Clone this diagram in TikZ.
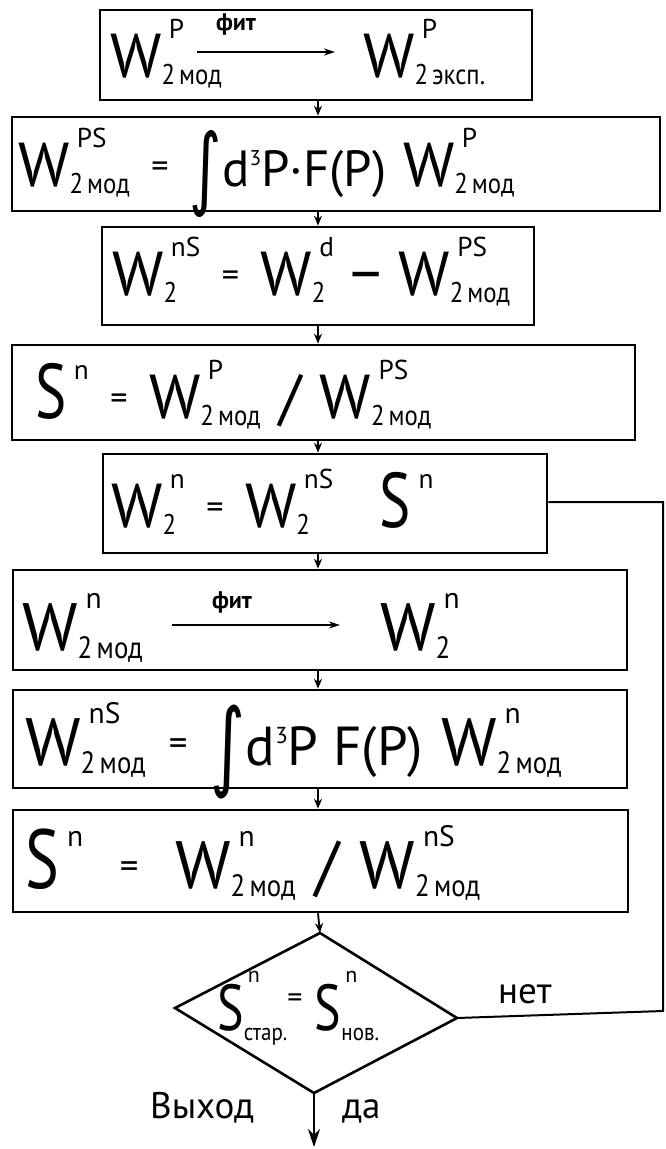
\documentclass[tikz,border=0pt]{standalone}
\usepackage{graphicx}
\usepackage{fontspec}
\setmainfont{PT Sans}
\newfontfamily\symf{DejaVu Sans}
\usetikzlibrary{fit,arrows.meta,calc}
\newcommand{\su}[2]{\ooalign{\hspace{0.12em}\raisebox{0.62em}{\scalebox{0.44}{#1}}\cr\raisebox{-0.12em}{\scalebox{0.4}[0.46]{#2}}\cr}}
\newcommand{\sud}[2]{\ooalign{\hspace{0.08em}\raisebox{0.95em}{\scalebox{0.44}{#1}}\cr\raisebox{-0.2em}{\scalebox{0.42}[0.48]{#2}}\cr}}
\newcommand{\intg}{\raisebox{-0.2em}{\scalebox{1}[1.45]{\symf ∫}}}
\newcommand{\cube}{\raisebox{0.4em}{\scalebox{0.42}{3}}}
\newcommand{\bigS}{\scalebox{0.95}[1.25]{S}}
\newcommand{\eq}{\hspace{0.08em}\raisebox{0.14em}{\scalebox{0.55}{=}}\hspace{0.08em}}
\newcommand{\sm}[1]{\scalebox{0.82}{#1}}
\newcommand{\slsh}{\hspace{0.3em}/\hspace{0.3em}}
\begin{document}
\begin{tikzpicture}[x=1pt,y=-1pt,
  box/.style={draw,line width=2.6pt,inner sep=0pt},
  outline/.style={draw,line width=2.6pt,line join=miter},
  txt/.style={anchor=base west,inner sep=0pt,font=\fontsize{62}{70}\selectfont},
  bigtxt/.style={txt,font=\fontsize{67}{74}\selectfont},
  lbl/.style={inner sep=0pt,font=\fontsize{37}{42}\selectfont},
  flbl/.style={inner sep=0pt,font=\fontsize{24}{28}\selectfont\bfseries},
  flow/.style={line width=1.8pt,-{Stealth[length=10pt,width=8pt]}},
  fitarrow/.style={line width=2pt,-{Stealth[length=11pt,width=7pt]}},
  exitarrow/.style={line width=2pt,-{Stealth[length=18pt,width=12pt]}},
  fb/.style={line width=2pt}]
\useasboundingbox (0,0) rectangle (665,1149);
\fill[white] (0,0) rectangle (665,1149);
% boxes
\node[box,fit={(100,10)(532,100)}] (b1) {};
\node[box,fit={(12,117)(660,211)}] (b2) {};
\node[box,fit={(102,227)(534,325)}] (b3) {};
\node[box,fit={(12,345)(635,440)}] (b4) {};
\node[box,fit={(103,454)(547,553)}] (b5) {};
\node[box,fit={(13,570)(627,670)}] (b6) {};
\node[box,fit={(13,690)(627,788)}] (b7) {};
\node[box,fit={(13,810)(628,912)}] (b8) {};
% diamond
\coordinate (dt) at (320,933);
\coordinate (dr) at (457,1018);
\coordinate (db) at (314,1093);
\coordinate (dl) at (175,1008);
\draw[outline] (dt) -- (dr) -- (db) -- (dl) -- cycle;
% texts
\node[txt] (l1a) at (110,77) {W\su{P}{2\,мод}};
\node[txt] (l1b) at (363,77) {W\su{P}{2\,эксп.}};
\coordinate (f1s) at (197,52);
\coordinate (f1e) at (335,52);
\draw[fitarrow] (f1s) -- (f1e);
\node[flbl] (fit1) at (236,24) {фит};
\node[txt] (l2) at (18,186) {W\su{PS}{2\,мод} \eq{} \intg\sm{d\cube P·F(P)} W\su{P}{2\,мод}};
\node[txt] (l3) at (112,295) {W\su{nS}{2} \eq{} W\su{d}{2} − W\su{PS}{2\,мод}};
\node[txt] (l4) at (35,418) {\bigS\su{n}{} \eq{} W\su{P}{2\,мод}\slsh{}W\su{PS}{2\,мод}};
\node[txt] (l5) at (111,527) {W\su{n}{2} \eq{} W\su{nS}{2}\hspace{0.75em}\bigS\su{n}{}};
\node[bigtxt] (l6a) at (22,650) {W\su{n}{2\,мод}};
\node[bigtxt] (l6b) at (380,650) {W\su{n}{2}};
\coordinate (f2s) at (172,625);
\coordinate (f2e) at (340,625);
\draw[fitarrow] (f2s) -- (f2e);
\node[flbl] (fit2) at (232,602) {фит};
\node[bigtxt] (l7) at (25,765) {W\su{nS}{2\,мод} \eq{} \intg\sm{d\cube P F(P)} W\su{n}{2\,мод}};
\node[bigtxt] (l8) at (25,888) {\bigS\su{n}{}\hspace{0.2em} \eq{}\hspace{0.2em} W\su{n}{2\,мод}\slsh{}W\su{nS}{2\,мод}};
\node[txt,font=\fontsize{50}{56}\selectfont] (dtxt) at (217,1030) {\scalebox{1}[1.3]{S}\sud{n}{стар.}\raisebox{0.45em}{\scalebox{0.6}{=}}\hspace{0.25em}\scalebox{1}[1.3]{S}\sud{n}{нов.}};
% flow arrows
\coordinate (ax) at (318,0);
\draw[flow] (ax |- b1.south) -- (ax |- b2.north);
\draw[flow] (ax |- b2.south) -- (ax |- b3.north);
\draw[flow] (ax |- b3.south) -- (ax |- b4.north);
\draw[flow] (ax |- b4.south) -- (ax |- b5.north);
\draw[flow] (ax |- b5.south) -- (ax |- b6.north);
\draw[flow] (ax |- b6.south) -- (ax |- b7.north);
\draw[flow] (ax |- b7.south) -- (ax |- b8.north);
\draw[flow] (ax |- b8.south) -- (dt);
% exit
\coordinate (exit) at (314,1147);
\draw[exitarrow] (db) -- (exit);
\node[lbl,anchor=base west] (outl) at (150,1118) {Выход};
\node[lbl,anchor=base west] (yes) at (342,1118) {да};
% feedback
\coordinate (fr) at (663,1011);
\coordinate (fu) at (663,502);
\draw[fb] (dr) -- (fr) -- (fu) -- (b5.east |- fu);
\node[lbl,anchor=base west] (no) at (498,1003) {нет};
\end{tikzpicture}
\end{document}
